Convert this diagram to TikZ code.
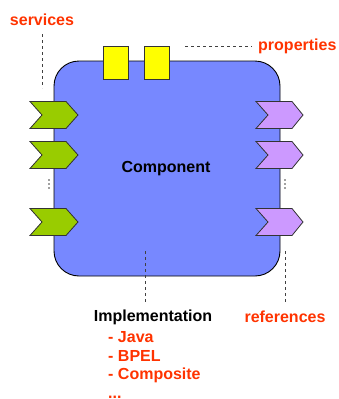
\documentclass[tikz,border=0pt]{standalone}
\usepackage{fontspec}
\setmainfont{Liberation Sans}
\definecolor{compblue}{HTML}{7788FF}
\definecolor{labred}{HTML}{FF3300}
\definecolor{svcgreen}{HTML}{99CC00}
\definecolor{refpurple}{HTML}{CC99FF}
\definecolor{propyellow}{HTML}{FFFF00}
\begin{document}
\begin{tikzpicture}[x=1pt,y=-1pt,
  every node/.style={font=\fontsize{16}{19}\selectfont\bfseries, inner sep=0pt},
  redlabel/.style={text=labred},
  leader/.style={draw=black!75, line width=0.7pt, dash pattern=on 3pt off 3pt},
  chev/.style={draw=black!80, line width=0.8pt, line join=miter},
  propbox/.style={draw=black!80, line width=0.8pt, fill=propyellow, minimum width=25, minimum height=33},
  dotmark/.style={fill=black!75, circle, inner sep=0pt, minimum size=1.6pt}]
\useasboundingbox (0,0) rectangle (338,399);
\clip (0,0) rectangle (338,399);
% component
\node[draw=black, line width=0.9pt, fill=compblue, rounded corners=25pt,
  minimum width=226, minimum height=215] (comp) at (167,168.5) {};
\node (comptext) at (166,169) {Component};
% properties boxes
\node[propbox] (prop1) at (115.5,62.5) {};
\node[propbox] (prop2) at (156.5,62.5) {};
% service chevrons
\foreach \n/\cy in {1/115,2/155,3/222}{
  \draw[chev, fill=svcgreen] (30,\cy-13.5) -- (66,\cy-13.5) -- (78,\cy) -- (66,\cy+13.5) -- (30,\cy+13.5) -- (42,\cy) -- cycle;
  \coordinate (svc\n) at (54,\cy);
}
% reference chevrons
\foreach \n/\cy in {1/115,2/155,3/222}{
  \draw[chev, fill=refpurple] (256,\cy-13.5) -- (292,\cy-13.5) -- (303,\cy) -- (292,\cy+13.5) -- (256,\cy+13.5) -- (268,\cy) -- cycle;
  \coordinate (ref\n) at (280,\cy);
}
% vertical dots
\foreach \yy in {180,184,188}{
  \node[dotmark] at (49,\yy) {};
  \node[dotmark] at (285,\yy) {};
}
% labels
\node[redlabel] (services) at (42,20) {services};
\node[redlabel, anchor=west] (properties) at (258,46) {properties};
\node (impl) at (153,317) {Implementation};
\node[redlabel] (references) at (285,317) {references};
\node[redlabel, anchor=west] (java) at (108,337) {- Java};
\node[redlabel, anchor=west] (bpel) at (108,356) {- BPEL};
\node[redlabel, anchor=west] (composite) at (108,375) {- Composite};
\node[redlabel, anchor=west] (more) at (108,397.5) {...};
% leader lines
\coordinate (svcend) at (42,88);
\coordinate (svcstart) at (42,34);
\draw[leader] (svcstart) -- (svcend);
\coordinate (propstart) at (185,46);
\coordinate (propend) at (252,46);
\draw[leader] (propstart) -- (propend);
\coordinate (implstart) at (145,251);
\coordinate (implend) at (145,303);
\draw[leader] (implstart) -- (implend);
\coordinate (refstart) at (285,251);
\coordinate (refend) at (285,303);
\draw[leader] (refstart) -- (refend);
\end{tikzpicture}
\end{document}
